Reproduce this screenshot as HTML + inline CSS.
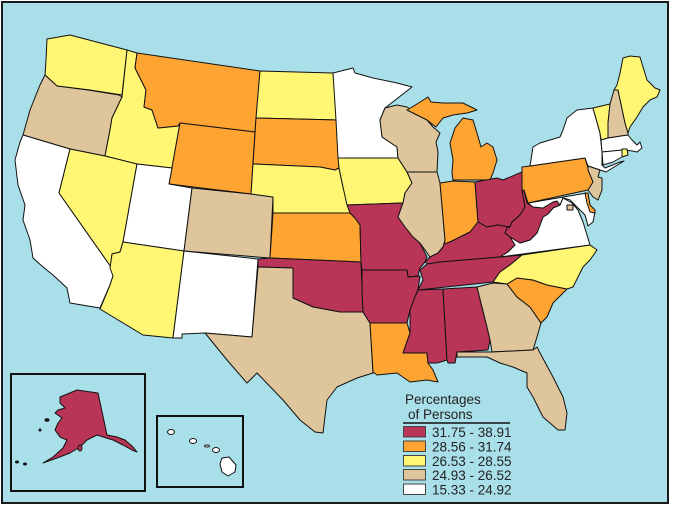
<!DOCTYPE html>
<html><head><meta charset="utf-8"><style>
html,body{margin:0;padding:0;background:#fff;}
svg{display:block;}
text{font-family:"Liberation Sans",Arial,sans-serif;fill:#222;}
</style></head><body>
<svg width="673" height="509" viewBox="0 0 673 509" xmlns="http://www.w3.org/2000/svg">
<rect x="0" y="0" width="673" height="509" fill="#fff"/>
<rect x="2" y="2" width="666" height="501" fill="#a9dfe9" stroke="#1a1a1a" stroke-width="2"/>
<g stroke="#111" stroke-width="1" stroke-linejoin="round">
<!-- West -->
<path fill="#fff673" d="M47,39 L70,35 L127,50 L122,95 L90,90 L57,86 L45,75 L46,60 Z"/>
<path fill="#dfc59c" d="M45,75 L57,86 L88,90 L119,95 L122,97 L112,118 L110,130 L105,156 L70,149 L23,135 L30,110 L40,85 Z"/>
<path fill="#ffffff" d="M23,135 L70,149 L59,193 L111,267 L113,276 L110,285 L100,308 L70,303 L67,288 L53,275 L43,267 L33,258 L30,240 L23,220 L25,205 L18,185 L15,160 L20,142 Z"/>
<path fill="#fff673" d="M127,50 L137,53 L135,68 L146,90 L144,107 L152,110 L158,128 L178,126 L180,123 L172,168 L137,164 L105,156 L110,130 L112,118 L122,97 Z"/>
<path fill="#fea433" d="M137,53 L260,71 L255,132 L180,123 L178,126 L158,128 L152,110 L144,107 L146,90 L135,68 Z"/>
<path fill="#fea433" d="M180,123 L255,132 L251,194 L169,184 Z"/>
<path fill="#fff673" d="M70,149 L105,156 L137,164 L123,242 L120,252 L112,254 L111,267 L59,193 Z"/>
<path fill="#ffffff" d="M137,164 L172,168 L169,184 L192,188 L184,251 L123,242 Z"/>
<path fill="#fff673" d="M123,242 L184,251 L173,338 L143,335 L100,309 L110,285 L113,276 L110,268 L112,254 L120,252 Z"/>
<path fill="#dfc59c" d="M192,188 L251,194 L273,197 L270,258 L184,251 Z"/>
<path fill="#ffffff" d="M184,251 L258,259 L252,337 L205,333 L182,334 L182,338 L173,338 Z"/>
<!-- Plains -->
<path fill="#fff673" d="M260,71 L333,73 L336,100 L338,120 L256,118 Z"/>
<path fill="#fea433" d="M256,118 L338,120 L337,135 L339,168 L335,170 L320,167 L253,164 Z"/>
<path fill="#fff673" d="M253,164 L320,167 L335,170 L339,168 L343,187 L348,205 L350,213 L273,213 L273,197 L251,194 Z"/>
<path fill="#fea433" d="M273,213 L350,213 L355,218 L360,225 L361,262 L270,258 Z"/>
<path fill="#b83558" d="M258,259 L270,258 L361,262 L363,312 L340,312 L313,307 L293,298 L293,268 L258,267 Z"/>
<path fill="#dfc59c" d="M258,267 L293,268 L293,298 L313,307 L340,312 L363,312 L370,323 L373,373 L357,378 L337,387 L327,400 L323,433 L315,432 L300,420 L283,400 L257,373 L247,383 L227,360 L205,333 L252,337 Z"/>
<!-- Midwest -->
<path fill="#ffffff" d="M333,73 L353,68 L355,73 L373,78 L397,83 L412,87 L385,108 L380,120 L382,137 L397,147 L398,158 L338,158 L336,120 Z"/>
<path fill="#fff673" d="M338,158 L398,158 L407,172 L412,183 L405,193 L403,203 L347,205 L343,187 L339,168 Z"/>
<path fill="#b83558" d="M347,205 L403,203 L398,217 L405,227 L413,237 L420,243 L427,257 L425,262 L420,268 L418,276 L408,277 L407,270 L362,270 L361,262 L360,225 L355,218 L350,213 Z"/>
<path fill="#b83558" d="M362,270 L407,270 L408,277 L420,276 L418,290 L415,297 L410,310 L407,323 L370,323 L363,312 L362,290 Z"/>
<path fill="#fea433" d="M370,323 L407,323 L410,333 L403,353 L427,353 L428,363 L433,370 L438,382 L427,380 L410,382 L397,373 L377,375 L373,372 Z"/>
<path fill="#dfc59c" d="M385,108 L397,105 L407,107 L427,120 L433,127 L440,133 L436,142 L438,152 L437,172 L407,172 L398,158 L397,147 L382,137 L380,120 Z"/>
<path fill="#fea433" d="M407,110 L417,104 L428,97 L431,102 L443,103 L463,103 L477,110 L467,113 L453,115 L443,118 L436,127 L427,120 Z"/>
<path fill="#fea433" d="M453,180 L452,173 L453,160 L450,143 L455,128 L463,118 L473,120 L477,133 L481,147 L487,143 L493,147 L497,160 L493,173 L490,180 Z"/>
<path fill="#dfc59c" d="M407,172 L437,172 L440,183 L445,240 L443,247 L438,253 L430,257 L420,243 L413,237 L405,227 L398,217 L403,203 L405,193 L412,183 Z"/>
<path fill="#fea433" d="M440,183 L453,181 L475,182 L478,222 L470,232 L460,237 L450,242 L444,244 L445,240 Z"/>
<path fill="#b83558" d="M475,182 L497,178 L503,180 L522,172 L522,190 L525,207 L520,215 L512,222 L510,227 L498,225 L487,227 L478,222 Z"/>
<!-- South -->
<path fill="#b83558" d="M430,257 L438,253 L443,247 L444,244 L450,242 L460,237 L470,232 L478,222 L487,227 L498,225 L510,227 L507,228 L505,233 L510,237 L515,245 L508,252 L500,257 L440,262 L428,264 L425,262 Z"/>
<path fill="#b83558" d="M427,264 L440,262 L500,257 L522,255 L510,265 L500,272 L493,282 L418,290 L423,280 L420,270 Z"/>
<path fill="#b83558" d="M418,290 L443,289 L447,360 L437,363 L428,363 L427,353 L403,353 L410,333 L410,310 L415,297 Z"/>
<path fill="#b83558" d="M443,289 L477,287 L487,327 L490,340 L488,350 L457,352 L455,363 L448,363 L447,360 Z"/>
<path fill="#dfc59c" d="M477,287 L493,283 L507,284 L517,297 L530,307 L541,323 L537,337 L533,350 L492,352 L490,340 L487,327 Z"/>
<path fill="#dfc59c" d="M457,352 L492,352 L533,350 L537,347 L540,353 L553,377 L563,397 L567,413 L565,430 L558,430 L543,417 L533,397 L527,387 L527,373 L513,367 L500,363 L487,357 L457,357 Z"/>
<path fill="#fea433" d="M507,284 L517,278 L533,280 L547,285 L567,289 L553,303 L547,317 L541,323 L530,307 L517,297 Z"/>
<path fill="#fff673" d="M522,255 L590,245 L597,250 L590,260 L583,267 L573,287 L567,289 L547,285 L533,280 L517,278 L507,284 L493,282 L500,272 L510,265 Z"/>
<path fill="#ffffff" d="M500,257 L508,252 L515,245 L510,237 L520,243 L530,240 L537,233 L543,217 L548,214 L553,208 L560,205 L563,198 L572,203 L578,210 L583,222 L587,235 L590,245 Z"/>
<path fill="#b83558" d="M522,190 L524,190 L527,203 L533,207 L543,208 L553,202 L557,201 L560,205 L553,208 L548,214 L543,217 L537,233 L530,240 L520,243 L510,237 L505,233 L507,228 L510,227 L512,222 L520,215 L525,207 Z"/>
<!-- Northeast -->
<path fill="#ffffff" d="M528,203 L587,193 L590,205 L595,212 L593,222 L588,226 L585,215 L580,210 L575,205 L570,200 L563,198 L560,205 L557,201 L553,202 L543,208 L533,207 Z"/>
<path fill="#fea433" d="M585,193 L588,193 L590,205 L595,210 L595,213 L590,212 L587,203 Z"/>
<rect x="567" y="205" width="6" height="5" fill="#dfc59c"/>
<path fill="#fea433" d="M522,167 L530,166 L585,158 L588,168 L593,182 L590,189 L588,190 L528,203 L524,190 L522,190 Z"/>
<path fill="#ffffff" d="M530,166 L533,147 L540,143 L550,140 L560,137 L563,130 L567,118 L577,110 L593,108 L600,133 L602,152 L602,165 L605,168 L620,162 L624,161 L606,172 L600,170 L588,166 L585,158 Z"/>
<path fill="#dfc59c" d="M588,166 L600,170 L598,177 L602,178 L602,190 L598,200 L593,197 L588,190 L593,182 L588,170 Z"/>
<path fill="#fff673" d="M593,108 L610,104 L608,123 L608,138 L601,140 L600,133 Z"/>
<path fill="#dfc59c" d="M610,104 L614,90 L618,90 L625,123 L628,133 L628,135 L608,138 L608,123 Z"/>
<path fill="#fff673" d="M614,90 L617,85 L620,73 L623,58 L630,56 L640,57 L647,80 L655,88 L660,90 L657,97 L650,100 L643,107 L637,117 L630,127 L628,133 L625,123 L618,90 Z"/>
<path fill="#ffffff" d="M601,140 L608,138 L628,135 L632,140 L637,145 L640,142 L642,148 L637,152 L632,151 L625,150 L602,152 Z"/>
<path fill="#ffffff" d="M602,152 L622,150 L622,157 L613,162 L603,165 Z"/>
<path fill="#fff673" d="M622,149 L627,149 L628,155 L622,157 Z"/>
</g>
<!-- Insets -->
<rect x="11" y="374" width="134" height="117" fill="none" stroke="#111" stroke-width="2"/>
<rect x="157" y="416" width="86" height="71" fill="none" stroke="#111" stroke-width="2"/>
<g stroke="#111" stroke-width="1" stroke-linejoin="round">
<path fill="#b83558" d="M60,397 L77,390 L98,393 L107,435 L117,437 L125,440 L133,447 L137,452 L132,450 L123,445 L113,440 L97,435 L87,440 L80,447 L70,453 L57,458 L43,463 L53,457 L63,448 L67,440 L60,437 L55,430 L58,423 L62,418 L55,413 L58,410 L65,408 L60,403 Z"/>
<ellipse cx="17" cy="462" rx="1.5" ry="1" fill="#111"/>
<ellipse cx="25" cy="464" rx="1.5" ry="1" fill="#111"/>
<ellipse cx="40" cy="430" rx="1" ry="1" fill="#111"/>
<ellipse cx="47" cy="420" rx="2" ry="1.2" fill="#111"/>
<ellipse cx="80" cy="448" rx="2" ry="3" fill="#b83558"/>
<ellipse cx="171" cy="432" rx="3.5" ry="2.5" fill="#fff"/>
<ellipse cx="193" cy="441" rx="3.5" ry="2.5" fill="#fff"/>
<ellipse cx="207" cy="446" rx="2.5" ry="1" fill="#fff"/>
<ellipse cx="216" cy="450" rx="3.5" ry="2.5" fill="#fff"/>
<path fill="#fff" d="M222,458 L229,457 L236,465 L235,472 L228,476 L222,472 L220,464 Z"/>
</g>
<!-- Legend -->
<text x="405" y="404" font-size="13.5">Percentages</text>
<text x="408" y="419" font-size="13.5">of Persons</text>
<line x1="403" y1="423" x2="510" y2="423" stroke="#111" stroke-width="1.5"/>
<g stroke="#444" stroke-width="1">
<rect x="403.5" y="426.5" width="22" height="10.5" fill="#b83558"/>
<rect x="403.5" y="441" width="22" height="10.5" fill="#fea433"/>
<rect x="403.5" y="455.5" width="22" height="10.5" fill="#fff673"/>
<rect x="403.5" y="469.5" width="22" height="10.5" fill="#dfc59c"/>
<rect x="403.5" y="484" width="22" height="10.5" fill="#ffffff"/>
</g>
<text x="432" y="437" font-size="13.5">31.75 - 38.91</text>
<text x="432" y="451.5" font-size="13.5">28.56 - 31.74</text>
<text x="432" y="466" font-size="13.5">26.53 - 28.55</text>
<text x="432" y="480" font-size="13.5">24.93 - 26.52</text>
<text x="432" y="494.5" font-size="13.5">15.33 - 24.92</text>
</svg>
</body></html>
